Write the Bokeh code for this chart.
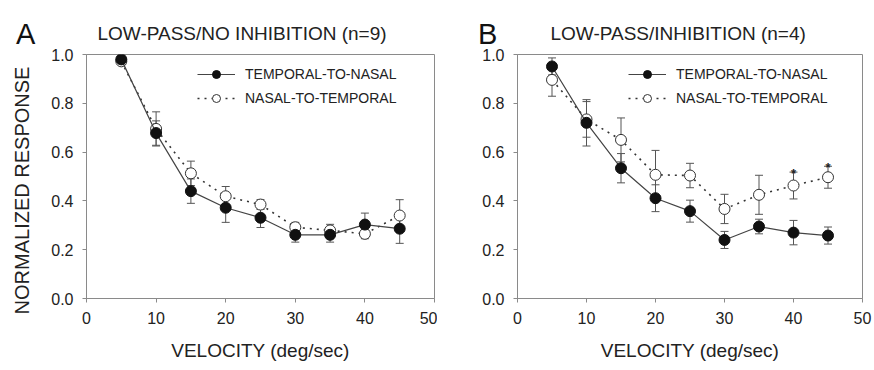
import math
from bokeh.plotting import figure
from bokeh.layouts import row
from bokeh.models import (ColumnDataSource, Whisker, TeeHead, Legend, LegendItem,
                          Label, FixedTicker, Range1d)
from bokeh.core.properties import value
from bokeh.embed import file_html
from bokeh.resources import INLINE

# ---------------- data ----------------
velocity = [5, 10, 15, 20, 25, 30, 35, 40, 45]

# Panel A: LOW-PASS/NO INHIBITION (n=9)
a_tn = [0.98, 0.678, 0.44, 0.372, 0.331, 0.261, 0.261, 0.303, 0.286]
a_tn_err = [0.0, 0.05, 0.05, 0.06, 0.04, 0.03, 0.03, 0.047, 0.06]
a_nt = [0.972, 0.695, 0.513, 0.419, 0.385, 0.292, 0.279, 0.265, 0.34]
a_nt_err = [0.0, 0.07, 0.05, 0.04, 0.02, 0.02, 0.025, 0.02, 0.065]

# Panel B: LOW-PASS/INHIBITION (n=4)
b_tn = [0.951, 0.72, 0.534, 0.411, 0.358, 0.24, 0.295, 0.27, 0.258]
b_tn_err = [0.035, 0.095, 0.06, 0.055, 0.045, 0.035, 0.03, 0.05, 0.035]
b_nt = [0.896, 0.734, 0.65, 0.507, 0.504, 0.367, 0.425, 0.463, 0.497]
b_nt_err = [0.067, 0.073, 0.09, 0.1, 0.05, 0.06, 0.08, 0.055, 0.045]
b_signif = [False, False, False, False, False, False, False, True, True]

x_ticks = [0, 10, 20, 30, 40, 50]
y_ticks = [0.0, 0.2, 0.4, 0.6, 0.8, 1.0]
y_tick_labels = {0.0: "0.0", 0.2: "0.2", 0.4: "0.4", 0.6: "0.6", 0.8: "0.8", 1.0: "1.0"}

series_labels = ["TEMPORAL-TO-NASAL", "NASAL-TO-TEMPORAL"]
FONT = "Liberation Sans"
TXT = "#222222"
AX = "#8a8a8a"


def make_panel(letter, title, tn, tn_err, nt, nt_err, width, left, right,
               letter_x, title_x, show_ylabel, signif=None):
    p = figure(width=width, height=366, output_backend="svg", toolbar_location=None,
               min_border_left=left, min_border_right=right,
               min_border_top=54, min_border_bottom=68,
               x_range=Range1d(0, 50), y_range=Range1d(0, 1.0))
    p.grid.visible = False
    p.outline_line_color = AX
    p.background_fill_color = "white"
    p.border_fill_color = "white"

    for ax in (p.xaxis[0], p.yaxis[0]):
        ax.axis_line_color = AX
        ax.major_tick_line_color = AX
        ax.major_tick_out = 4
        ax.major_tick_in = 0
        ax.minor_tick_line_color = None
        ax.major_label_text_font = FONT
        ax.major_label_text_font_size = "16px"
        ax.major_label_text_color = TXT
        ax.major_label_standoff = 9
    p.xaxis.ticker = FixedTicker(ticks=x_ticks)
    p.yaxis.ticker = FixedTicker(ticks=y_ticks)
    p.yaxis.major_label_overrides = y_tick_labels
    p.xaxis.axis_label = "VELOCITY (deg/sec)"
    p.xaxis.axis_label_text_font = FONT
    p.xaxis.axis_label_text_font_size = "19px"
    p.xaxis.axis_label_text_font_style = "normal"
    p.xaxis.axis_label_text_color = TXT
    p.xaxis.axis_label_standoff = 13

    src_tn = ColumnDataSource(dict(x=velocity, y=tn,
                                   lo=[v - e for v, e in zip(tn, tn_err)],
                                   hi=[v + e for v, e in zip(tn, tn_err)]))
    src_nt = ColumnDataSource(dict(x=velocity, y=nt,
                                   lo=[v - e for v, e in zip(nt, nt_err)],
                                   hi=[v + e for v, e in zip(nt, nt_err)]))

    for src in (src_nt, src_tn):
        w = Whisker(base="x", lower="lo", upper="hi", source=src,
                    line_color="#555555", line_width=1,
                    lower_head=TeeHead(size=8, line_color="#555555", line_width=1),
                    upper_head=TeeHead(size=8, line_color="#555555", line_width=1))
        p.add_layout(w)

    l_nt = p.line("x", "y", source=src_nt, line_color="#333333", line_width=1.6,
                  line_dash="2 5")
    s_nt = p.scatter("x", "y", source=src_nt, size=11, fill_color="white",
                     line_color="#333333", line_width=1)
    l_tn = p.line("x", "y", source=src_tn, line_color="#444444", line_width=1.2)
    s_tn = p.scatter("x", "y", source=src_tn, size=11, fill_color="#111111",
                     line_color="#111111", line_width=1)

    if signif is not None:
        sx = [x for x, s in zip(velocity, signif) if s]
        sy = [v + e for v, e, s in zip(nt, nt_err, signif) if s]
        p.text(x=sx, y=sy, text=["*"] * len(sx), text_font=value(FONT),
               text_font_size="13px", text_font_style="bold", text_color="#222222",
               text_align="center", text_baseline="alphabetic", y_offset=1)

    legend = Legend(items=[LegendItem(label=series_labels[0], renderers=[l_tn, s_tn]),
                           LegendItem(label=series_labels[1], renderers=[l_nt, s_nt])],
                    location=(111, 190), margin=0, padding=0, spacing=4,
                    glyph_width=38, glyph_height=20, label_height=20,
                    label_standoff=10, border_line_color=None,
                    background_fill_alpha=0,
                    label_text_font=FONT, label_text_font_size="14px",
                    label_text_color=TXT)
    p.add_layout(legend)

    # title: single label in the "above" side panel (origin: frame top-left)
    p.add_layout(Label(x=title_x, y=21, x_units="screen", y_units="screen",
                       text=title, text_font=FONT, text_font_size="19px",
                       text_color=TXT, text_baseline="alphabetic"), "above")
    # y label and panel letter in the "left" side panel (y origin: frame bottom)
    if show_ylabel:
        p.add_layout(Label(x=-5, y=108, x_units="screen", y_units="screen",
                           text="NORMALIZED RESPONSE", angle=math.pi / 2,
                           text_font=FONT, text_font_size="20px", text_color=TXT,
                           text_align="center", text_baseline="alphabetic"), "left")
    p.add_layout(Label(x=letter_x, y=265, x_units="screen", y_units="screen",
                       text=letter, text_font=FONT, text_font_size="29px",
                       text_color="#111111", text_baseline="alphabetic"), "left")
    return p


pa = make_panel("A", "LOW-PASS/NO INHIBITION (n=9)", a_tn, a_tn_err, a_nt, a_nt_err,
                437, 86, 3, 8.5, 11, True)
pb = make_panel("B", "LOW-PASS/INHIBITION (n=4)", b_tn, b_tn_err, b_nt, b_nt_err,
                435, 80, 10, 17.5, 33, False, signif=b_signif)

layout = row(pa, pb, spacing=0)
open("out.html", "w").write(file_html(layout, INLINE))
